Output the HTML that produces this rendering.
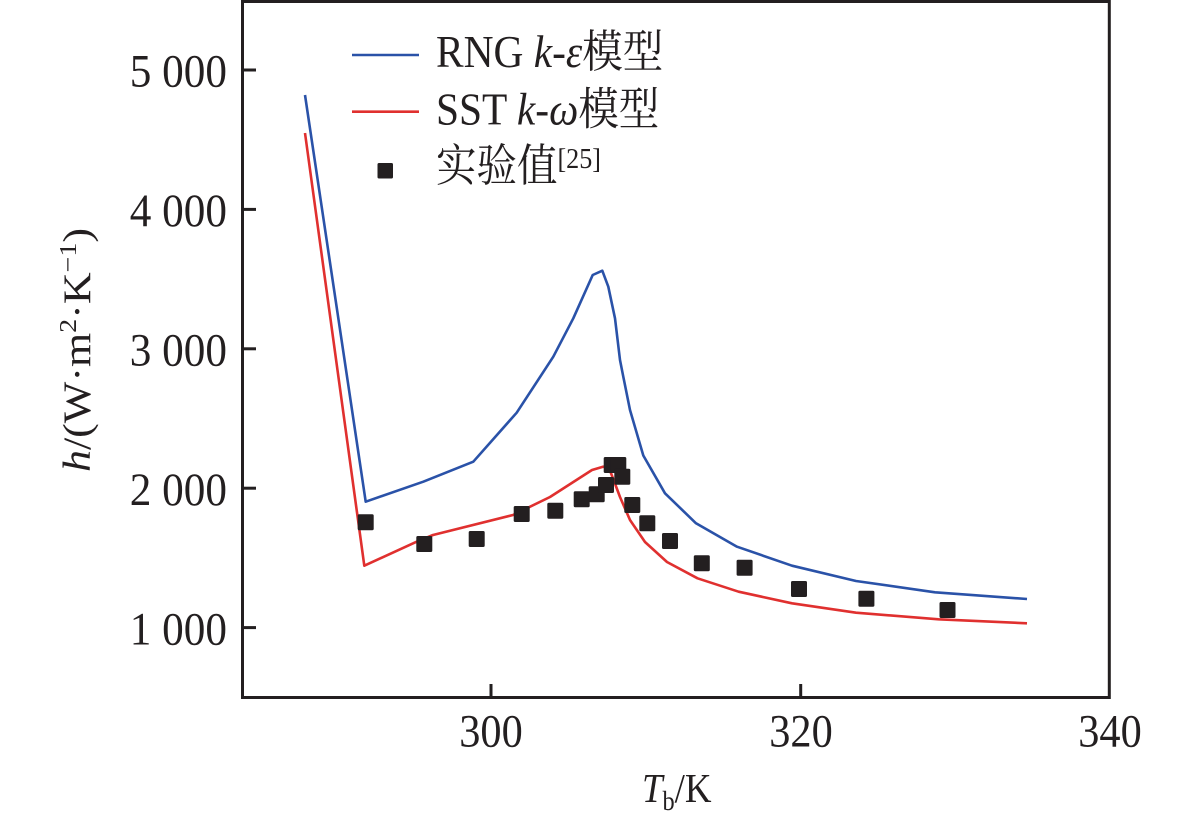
<!DOCTYPE html>
<html><head><meta charset="utf-8"><style>
html,body{margin:0;padding:0;background:#fff;}
svg{display:block;}
text{font-family:"Liberation Serif","Noto Serif CJK SC",serif;fill:#231f20;}
</style></head><body>
<svg width="1181" height="824" viewBox="0 0 1181 824" xmlns="http://www.w3.org/2000/svg">
<rect x="0" y="0" width="1181" height="824" fill="#fff"/>
<!-- axes box -->
<rect x="242.5" y="1.5" width="866.8" height="696" fill="none" stroke="#231f20" stroke-width="3"/>
<!-- ticks -->
<g stroke="#231f20" stroke-width="3">
<line x1="243" y1="70" x2="256" y2="70"/>
<line x1="243" y1="209.4" x2="256" y2="209.4"/>
<line x1="243" y1="348.8" x2="256" y2="348.8"/>
<line x1="243" y1="488.2" x2="256" y2="488.2"/>
<line x1="243" y1="627.6" x2="256" y2="627.6"/>
<line x1="491" y1="697" x2="491" y2="684"/>
<line x1="800.7" y1="697" x2="800.7" y2="684"/>
</g>
<!-- y tick labels -->
<g font-size="47" text-anchor="end">
<text transform="translate(227,86.7) scale(0.92,1)">5 000</text>
<text transform="translate(227,226.1) scale(0.92,1)">4 000</text>
<text transform="translate(227,365.5) scale(0.92,1)">3 000</text>
<text transform="translate(227,504.9) scale(0.92,1)">2 000</text>
<text transform="translate(227,644.3) scale(0.92,1)">1 000</text>
</g>
<!-- x tick labels -->
<g font-size="47" text-anchor="middle">
<text transform="translate(491,746.7) scale(0.9,1)">300</text>
<text transform="translate(801,746.7) scale(0.9,1)">320</text>
<text transform="translate(1110,746.7) scale(0.9,1)">340</text>
</g>
<!-- x title -->
<text transform="translate(642,802) scale(0.9,1)" font-size="41"><tspan font-style="italic">T</tspan><tspan font-size="27" dy="8">b</tspan><tspan dy="-8">/K</tspan></text>
<!-- y title -->
<text transform="translate(90,350) scale(0.88,1) rotate(-90)" font-size="44" text-anchor="middle"><tspan font-style="italic">h</tspan>/(W·m<tspan font-size="28" dy="-16">2</tspan><tspan dy="16">·K</tspan><tspan font-size="28" dy="-16">−1</tspan><tspan dy="16">)</tspan></text>

<!-- series -->
<polyline fill="none" stroke="#2a52a8" stroke-width="2.6" stroke-linejoin="round" points="305,95 365.7,501.7 423.3,481.7 473.3,461.7 516.7,412.7 553.3,356.7 573.3,318.3 592.7,275 602.3,270.7 608.3,286.7 615,318.3 620,360 623.3,376.7 630,410 643.3,455.5 665,493.3 696,523.3 737,546.7 792,565.7 856,581 935,592.3 1027,599"/>
<polyline fill="none" stroke="#e0302f" stroke-width="2.6" stroke-linejoin="round" points="305,133 364.3,565.7 416.7,541.7 433,535 513,515 550,497 592,470 603,466.7 609,468 614,481 620,497 630,520 645,542 667,562 697.5,578.3 738.6,591.7 792,603.3 856,612.7 938.6,619.3 1027,623.3"/>
<g fill="#231f20">
<rect x="357.7" y="514.3" width="16" height="16" rx="1.5"/>
<rect x="416.3" y="536" width="16" height="16" rx="1.5"/>
<rect x="468.7" y="531" width="16" height="16" rx="1.5"/>
<rect x="513.7" y="506" width="16" height="16" rx="1.5"/>
<rect x="547.3" y="502.7" width="16" height="16" rx="1.5"/>
<rect x="573.7" y="491.3" width="16" height="16" rx="1.5"/>
<rect x="588.7" y="486.3" width="16" height="16" rx="1.5"/>
<rect x="598" y="477" width="16" height="16" rx="1.5"/>
<rect x="603.7" y="457" width="16" height="16" rx="1.5"/>
<rect x="610.3" y="457" width="16" height="16" rx="1.5"/>
<rect x="614.3" y="468.7" width="16" height="16" rx="1.5"/>
<rect x="624.3" y="497" width="16" height="16" rx="1.5"/>
<rect x="639.3" y="515.3" width="16" height="16" rx="1.5"/>
<rect x="662" y="533" width="16" height="16" rx="1.5"/>
<rect x="693.8" y="555.3" width="16" height="16" rx="1.5"/>
<rect x="736.6" y="559.7" width="16" height="16" rx="1.5"/>
<rect x="791" y="581" width="16" height="16" rx="1.5"/>
<rect x="858.4" y="590.7" width="16" height="16" rx="1.5"/>
<rect x="939.5" y="602" width="16" height="16" rx="1.5"/>
</g>

<!-- legend -->
<line x1="352" y1="55" x2="419" y2="55" stroke="#2a52a8" stroke-width="2.6"/>
<line x1="352" y1="111.7" x2="419" y2="111.7" stroke="#e0302f" stroke-width="2.6"/>
<rect x="377.5" y="163" width="15.5" height="15.5" rx="1.5" fill="#231f20"/>
<text transform="translate(436,67) scale(0.9,1)" font-size="46">RNG <tspan font-style="italic">k</tspan>-<tspan font-style="italic">ε</tspan><tspan font-size="45" font-family="Noto Serif CJK SC, serif">模型</tspan></text>
<text transform="translate(436,124.5) scale(0.9,1)" font-size="46">SST <tspan font-style="italic">k</tspan>-<tspan font-style="italic">ω</tspan><tspan font-size="45" font-family="Noto Serif CJK SC, serif">模型</tspan></text>
<text transform="translate(436,181) scale(0.9,1)" font-size="46"><tspan font-size="45" font-family="Noto Serif CJK SC, serif">实验值</tspan><tspan font-size="29" dy="-13">[25]</tspan></text>
</svg>
</body></html>
